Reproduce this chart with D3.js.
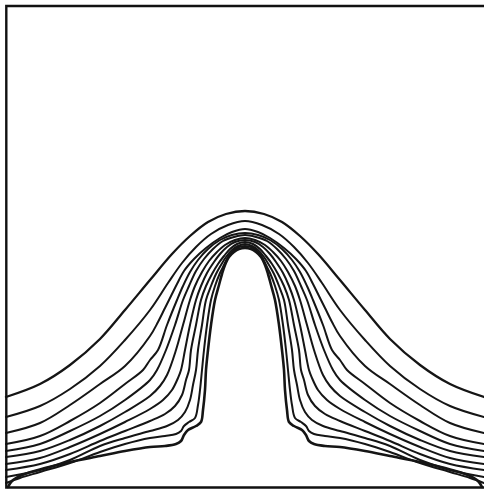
<!DOCTYPE html>
<html>
<head>
<meta charset="utf-8">
<script src="https://cdn.jsdelivr.net/npm/d3@7"></script>
<style>
  html, body { margin: 0; padding: 0; background: #fff; }
  svg { display: block; }
</style>
</head>
<body>
<script>
// Plume contour lines, outermost (c1) to innermost separatrix (c11).
// Each line is a list of [x, height] points, x measured from the plume axis.
const c1 = [[-239,90],[-205,103],[-175,122],[-145,148],[-120,177],[-95,207],[-73,233],[-55,251],[-37,265],[-19,273],[0,276],
            [19,273],[37,265],[55,251],[73,233],[95,207],[120,177],[145,148],[175,122],[205,103],[239,90]];
const c2 = [[-239,70],[-205,81],[-175,98],[-145,121],[-120,147],[-95,177],[-77,204],[-63,224],[-49,240],[-34,253],[-17,262],[0,266],
            [17,262],[34,253],[49,240],[63,224],[77,204],[95,177],[120,147],[145,121],[175,98],[205,81],[239,70]];
const c3 = [[-239,54],[-205,64],[-175,82],[-145,103],[-120,121],[-95,151],[-87,165],[-80,179],[-74,191],[-68,203],[-61,216],[-51,228],[-39,239],[-25,249],[-13,255],[0,258],
            [13,255],[25,249],[39,239],[51,228],[61,216],[68,203],[74,191],[80,179],[87,165],[95,151],[120,121],[145,103],[175,82],[205,64],[239,54]];
const c4 = [[-239,43],[-205,51],[-175,66],[-145,84],[-120,103],[-102,117],[-95,127],[-87,137],[-78,162],[-68,187],[-62,201],[-55,215],[-47,227],[-37,238],[-25,247],[-13,252],[0,254],
            [13,252],[25,247],[37,238],[47,227],[55,215],[62,201],[68,187],[78,162],[87,137],[95,127],[102,117],[120,103],[145,84],[175,66],[205,51],[239,43]];
const c5 = [[-239,36],[-205,43],[-175,56],[-145,71],[-120,87],[-95,107],[-88,117],[-79,137],[-70,162],[-62,187],[-56,201],[-49,216],[-41,228],[-32,238],[-22,246],[-11,250],[0,252],
            [11,250],[22,246],[32,238],[41,228],[49,216],[56,201],[62,187],[70,162],[79,137],[88,117],[95,107],[120,87],[145,71],[175,56],[205,43],[239,36]];
const c6 = [[-239,30],[-205,36],[-175,47],[-145,61],[-120,75],[-95,91],[-85,101],[-78,112],[-69,137],[-62,162],[-55,187],[-50,201],[-43,215],[-36,226],[-28,235],[-20,242],[-10,247],[0,249],
            [10,247],[20,242],[28,235],[36,226],[43,215],[50,201],[55,187],[62,162],[69,137],[78,112],[85,101],[95,91],[120,75],[145,61],[175,47],[205,36],[239,30]];
const c7 = [[-239,23],[-205,29],[-175,40],[-145,53],[-120,65],[-95,78],[-82,87],[-73,97],[-67,109],[-64,117],[-60,137],[-55,162],[-49,187],[-44,201],[-38,214],[-31,225],[-25,233],[-18,240],[-10,245],[0,247],
            [10,245],[18,240],[25,233],[31,225],[38,214],[44,201],[49,187],[55,162],[60,137],[64,117],[67,109],[73,97],[82,87],[95,78],[120,65],[145,53],[175,40],[205,29],[239,23]];
const c8 = [[-239,17],[-205,23],[-175,33],[-145,46],[-120,56],[-95,66],[-80,73],[-70,81],[-63,92],[-59,107],[-56,117],[-54,137],[-49,162],[-44,187],[-39,201],[-33,213],[-27,223],[-21,231],[-15,238],[-8,243],[0,245],
            [8,243],[15,238],[21,231],[27,223],[33,213],[39,201],[44,187],[49,162],[54,137],[56,117],[59,107],[63,92],[70,81],[80,73],[95,66],[120,56],[145,46],[175,33],[205,23],[239,17]];
const c9 = [[-239,10],[-205,17],[-175,27],[-145,41],[-120,49],[-95,56],[-78,61],[-67,67],[-60,75],[-55,87],[-52,102],[-49,117],[-47,137],[-43,162],[-39,187],[-34,201],[-29,213],[-24,222],[-19,230],[-13,237],[-7,241],[0,243],
            [7,241],[13,237],[19,230],[24,222],[29,213],[34,201],[39,187],[43,162],[47,137],[49,117],[52,102],[55,87],[60,75],[67,67],[78,61],[95,56],[120,49],[145,41],[175,27],[205,17],[239,10]];
const c10 = [[-239,4],[-225,9],[-205,15],[-175,24],[-145,35],[-120,43],[-95,49],[-80,51],[-69,53],[-64,56],[-61,61],[-56,65],[-50,69],[-47,82],[-45,97],[-43,117],[-41,137],[-38,162],[-34,187],[-30,201],[-25,214],[-21,222],[-17,230],[-12,236],[-6,240],[0,241],
             [6,240],[12,236],[17,230],[21,222],[25,214],[30,201],[34,187],[38,162],[41,137],[43,117],[45,97],[47,82],[50,69],[56,65],[61,61],[64,56],[69,53],[80,51],[95,49],[120,43],[145,35],[175,24],[205,15],[225,9],[239,4]];
const c11 = [[-237,0],[-233,6],[-223,12],[-200,19],[-175,25],[-145,31],[-120,36],[-95,40],[-80,41],[-69,43],[-64,46],[-61,52],[-57,57],[-49,61],[-44,65],[-42,77],[-40,97],[-39,117],[-37,137],[-34,162],[-30,187],[-26,202],[-23,213],[-20,222],[-16,230],[-11,235],[-6,238],[0,239],
             [6,238],[11,235],[16,230],[20,222],[23,213],[26,202],[30,187],[34,162],[37,137],[39,117],[40,97],[42,77],[44,65],[49,61],[57,57],[61,52],[64,46],[69,43],[80,41],[95,40],[120,36],[145,31],[175,25],[200,19],[223,12],[233,6],[237,0]];

const contours = [c1, c2, c3, c4, c5, c6, c7, c8, c9, c10, c11];
const xExtent = [-239, 239];
const yExtent = [0, 481];

const W = 484, H = 489;
const svg = d3.select("body").append("svg")
  .attr("width", W).attr("height", H);

const x = d3.scaleLinear().domain(xExtent).range([6, 484]);
const y = d3.scaleLinear().domain(yExtent).range([487, 6]);

const line = d3.line()
  .x(d => x(d[0]))
  .y(d => y(d[1]))
  .curve(d3.curveCatmullRom.alpha(0.5));

svg.append("g")
  .attr("fill", "none")
  .attr("stroke", "#151515")
  .attr("stroke-linecap", "round")
  .attr("stroke-linejoin", "round")
  .selectAll("path")
  .data(contours)
  .join("path")
  .attr("d", line)
  .attr("stroke-width", (d, i) => i === 0 ? 2.3 : (i === contours.length - 1 ? 2.6 : 2.0));

// plot frame: left, top and bottom edges (the right edge lies past the page)
const fx0 = x(xExtent[0]) + 0.3, fy0 = y(yExtent[1]), fy1 = y(yExtent[0]) + 0.5;
svg.append("path")
  .attr("d", `M${W + 2},${fy0}H${fx0}V${fy1}H${W + 2}`)
  .attr("fill", "none")
  .attr("stroke", "#111")
  .attr("stroke-width", 2.4);
</script>
</body>
</html>
